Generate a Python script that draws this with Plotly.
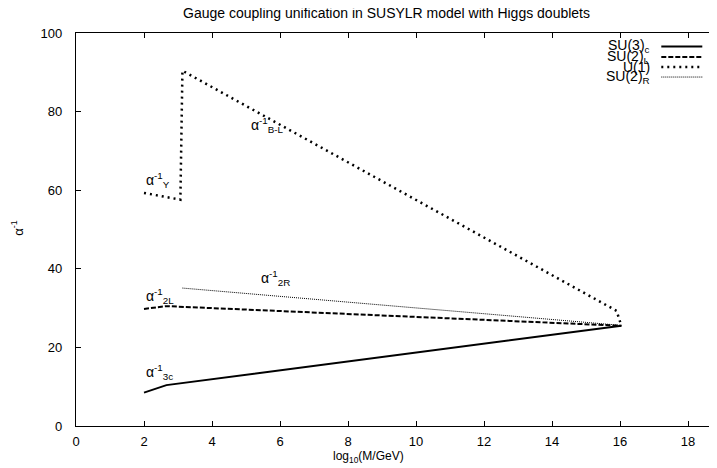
import plotly.graph_objects as go

# data
x_3c = [2.0, 2.66, 16.04]
y_3c = [8.5, 10.4, 25.5]
x_2L = [2.0, 2.66, 16.04]
y_2L = [29.8, 30.5, 25.5]
x_1 = [2.0, 3.07, 3.13, 15.9, 16.04]
y_1 = [59.3, 57.6, 90.4, 29.3, 25.5]
x_2R = [3.13, 16.04]
y_2R = [35.1, 25.6]

legend_names = ["SU(3)<sub>c</sub>", "SU(2)<sub>L</sub>", "U(1)", "SU(2)<sub>R</sub>"]
x_ticks = list(range(0, 20, 2))
y_ticks = list(range(0, 101, 20))

labels = [
    ("α<sup>-1</sup><sub>Y</sub>", 1.99, 62.6),
    ("α<sup>-1</sup><sub>B-L</sub>", 5.1, 76.5),
    ("α<sup>-1</sup><sub>2L</sub>", 1.99, 33.0),
    ("α<sup>-1</sup><sub>2R</sub>", 5.37, 37.7),
    ("α<sup>-1</sup><sub>3c</sub>", 1.99, 13.8),
]

FONT = "Liberation Sans, Arial, Helvetica, sans-serif"
OFF = 8  # page body margin
W, H = 717, 468
# plot area in picture pixels
PL, PT, PR, PB = 75.7, 33.3, 721.7, 426.0
PW, PH = PR - PL, PB - PT


def px(xp):
    return (xp - PL) / PW


def py(yp):
    return 1 - (yp - PT) / PH


styles = [
    dict(color="black", width=2, dash="solid"),
    dict(color="black", width=2, dash="5px,2px"),
    dict(color="black", width=2.5, dash="2px,4px"),
    dict(color="black", width=1, dash="1px,1px"),
]

fig = go.Figure()
series = [(x_3c, y_3c), (x_2L, y_2L), (x_1, y_1), (x_2R, y_2R)]
for (xs, ys), st, nm in zip(series, styles, legend_names):
    fig.add_trace(go.Scatter(x=xs, y=ys, mode="lines", line=st, name=nm,
                             showlegend=False, hoverinfo="skip"))

annotations = []
for txt, lx, ly in labels:
    annotations.append(dict(x=lx, y=ly, xref="x", yref="y", text=txt, showarrow=False,
                            xanchor="left", yanchor="middle",
                            font=dict(family=FONT, size=14, color="black")))

# manual legend (gnuplot style: text right, sample at right)
shapes = []
leg_y_px = [46.7, 57.3, 67.3, 77.3]
for nm, st, ypx in zip(legend_names, styles, leg_y_px):
    annotations.append(dict(x=px(652), y=py(ypx), xref="paper", yref="paper", text=nm,
                            showarrow=False, xanchor="right", yanchor="middle",
                            font=dict(family=FONT, size=14, color="black")))
    shapes.append(dict(type="line", xref="paper", yref="paper",
                       x0=px(661), x1=px(702), y0=py(ypx), y1=py(ypx), line=st))

# axis titles and title
annotations.append(dict(x=px(368), y=0, xref="paper", yref="paper",
                        text="log<sub>10</sub>(M/GeV)", showarrow=False,
                        xanchor="center", yanchor="middle", yshift=-31,
                        font=dict(family=FONT, size=12, color="black")))
annotations.append(dict(x=0, y=py(228), xref="paper", yref="paper",
                        text="α<sup>-1</sup>", showarrow=False, textangle=-90,
                        xanchor="center", yanchor="middle", xshift=-59,
                        font=dict(family=FONT, size=13, color="black")))
annotations.append(dict(x=px(386), y=1, xref="paper", yref="paper",
                        text="Gauge coupling unification in SUSYLR model with Higgs doublets",
                        showarrow=False, xanchor="center", yanchor="middle", yshift=20,
                        font=dict(family=FONT, size=14, color="black")))

fig.update_layout(
    width=W, height=H,
    margin=dict(l=PL - OFF, r=W - (PR - OFF), t=PT - OFF, b=H - (PB - OFF), pad=0),
    paper_bgcolor="white", plot_bgcolor="white",
    font=dict(family=FONT, size=13, color="black"),
    annotations=annotations, shapes=shapes,
    showlegend=False,
)
fig.update_xaxes(range=[0, 19], tickvals=x_ticks, ticks="inside", ticklen=5,
                 tickcolor="black", showline=True, linecolor="black", linewidth=1.2,
                 mirror="ticks", showgrid=False, zeroline=False, ticklabelstandoff=3,
                 tickfont=dict(family=FONT, size=13, color="black"))
fig.update_yaxes(range=[0, 100], tickvals=y_ticks, ticks="inside", ticklen=5,
                 tickcolor="black", showline=True, linecolor="black", linewidth=1.2,
                 mirror="ticks", showgrid=False, zeroline=False, ticklabelstandoff=10,
                 tickfont=dict(family=FONT, size=13, color="black"))

fig.write_html("out.html")
